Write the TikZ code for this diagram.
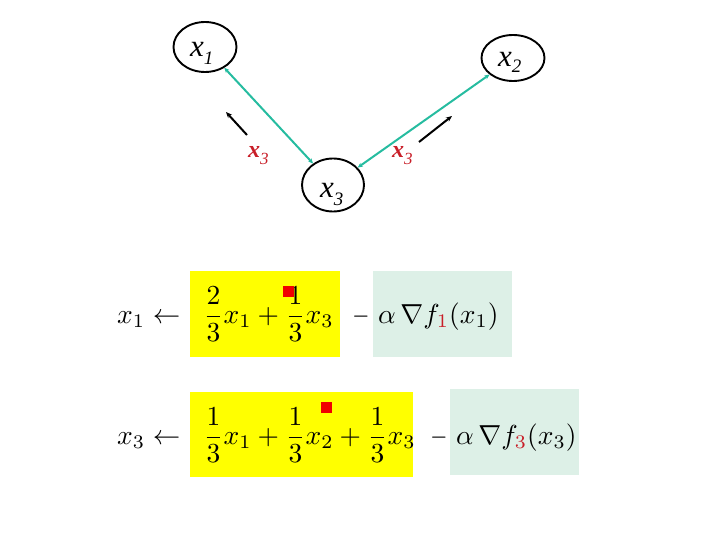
\documentclass[tikz,border=0pt]{standalone}
\usepackage{fontspec}
\usepackage{amsmath}
\usepackage{graphicx}
\usetikzlibrary{shapes.geometric,arrows.meta}
\newfontfamily\nodefont{Liberation Serif}
\definecolor{edgeteal}{RGB}{38,188,160}
\definecolor{labred}{RGB}{200,30,40}
\definecolor{hlyellow}{RGB}{255,255,0}
\definecolor{hlgreen}{RGB}{221,240,231}
\definecolor{sqred}{RGB}{240,0,0}
\newcommand{\eqbig}[1]{\scalebox{2.75}{$\displaystyle #1$}}
\newcommand{\eqminus}{\scalebox{2.2}[2.75]{$-$}}
\begin{document}
\begin{tikzpicture}[x=1pt,y=-1pt,
  vert/.style={draw,ellipse,line width=1.9pt,inner sep=0pt},
  vlab/.style={anchor=base west,inner sep=0pt,font=\nodefont\itshape\fontsize{31}{33}\selectfont},
  flow/.style={draw=edgeteal,line width=2pt,{Stealth[length=5pt,width=4.5pt]}-{Stealth[length=5pt,width=4.5pt]}},
  motion/.style={draw=black,line width=2pt,-{Stealth[length=6pt,width=5pt]}},
  msglab/.style={anchor=base west,inner sep=0pt,text=labred,font=\nodefont\bfseries\itshape\fontsize{24}{26}\selectfont},
  eqpart/.style={anchor=base west,inner sep=0pt},
  ybox/.style={fill=hlyellow,draw=none},
  gbox/.style={fill=hlgreen,draw=none},
  marker/.style={fill=sqred,draw=none,minimum size=11pt,inner sep=0pt}]
\useasboundingbox (0,0) rectangle (720,540);
% vertices
\node[vert,minimum width=63pt,minimum height=50pt] (n1) at (205,47) {};
\node[vert,minimum width=63pt,minimum height=46pt] (n2) at (513,58) {};
\node[vert,minimum width=62pt,minimum height=53pt] (n3) at (333,185) {};
\node[vlab] (l1) at (190,57) {x\raisebox{-8pt}{\fontsize{19}{19}\selectfont 1}};
\node[vlab] (l2) at (498,67) {x\raisebox{-6pt}{\fontsize{19}{19}\selectfont 2}};
\node[vlab] (l3) at (320,197) {x\raisebox{-9pt}{\fontsize{19}{19}\selectfont 3}};
% edges
\draw[flow] (n1) -- (n3);
\draw[flow] (n3) -- (n2);
% motion arrows
\coordinate (a1s) at (247,135); \coordinate (a1e) at (226,112);
\coordinate (a2s) at (419,142); \coordinate (a2e) at (452,116);
\draw[motion] (a1s) -- (a1e);
\draw[motion] (a2s) -- (a2e);
\node[msglab] (m1) at (248,158) {x\raisebox{-7pt}{\mdseries\fontsize{17}{17}\selectfont 3}};
\node[msglab] (m2) at (392,158) {x\raisebox{-7pt}{\mdseries\fontsize{17}{17}\selectfont 3}};
% highlight boxes
\fill[ybox] (190,271) rectangle (340,357);
\fill[gbox] (373,271) rectangle (512,357);
\fill[ybox] (190,392) rectangle (413,477);
\fill[gbox] (450,389) rectangle (579,475);
% equation 1
\node[eqpart] (e1a) at (117,323) {\eqbig{x_1 \leftarrow}};
\node[eqpart] (e1b) at (203,323) {\eqbig{\frac{2}{3}x_1+\frac{1}{3}x_3}};
\node[anchor=base,inner sep=0pt] (e1c) at (361,323) {\eqminus};
\node[eqpart] (e1d) at (378,323) {\eqbig{\alpha\,\nabla f_{\textcolor{labred}{1}}(x_1)}};
% equation 2
\node[eqpart] (e2a) at (117,444) {\eqbig{x_3 \leftarrow}};
\node[eqpart] (e2b) at (203,444) {\eqbig{\frac{1}{3}x_1+\frac{1}{3}x_2+\frac{1}{3}x_3}};
\node[anchor=base,inner sep=0pt] (e2c) at (439,444) {\eqminus};
\node[eqpart] (e2d) at (456,444) {\eqbig{\alpha\,\nabla f_{\textcolor{labred}{3}}(x_3)}};
% red markers
\node[marker] (s1) at (288,291) {};
\node[marker] (s2) at (326,407) {};
\end{tikzpicture}
\end{document}
